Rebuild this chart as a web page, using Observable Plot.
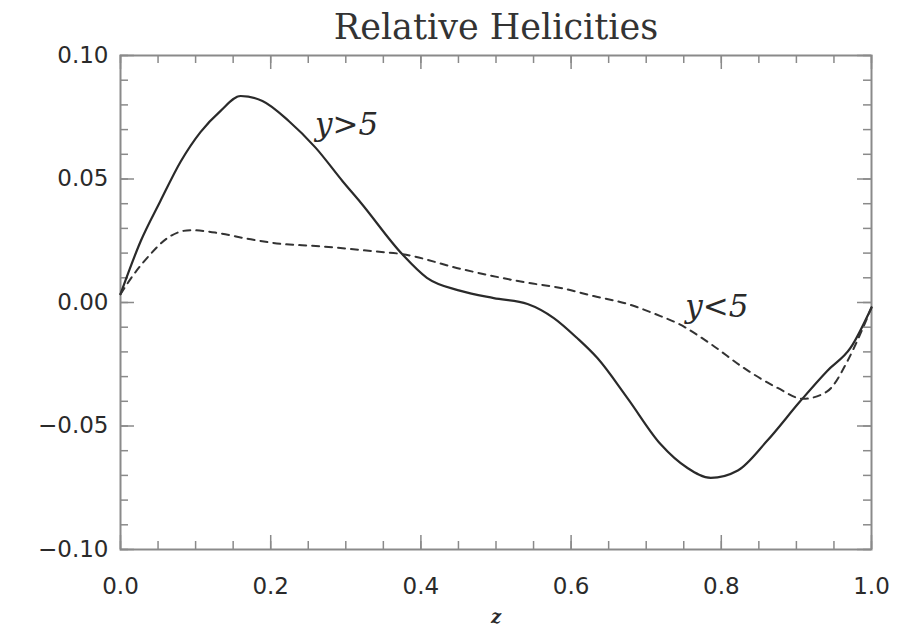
<!DOCTYPE html>
<html>
<head>
<meta charset="utf-8">
<script src="https://cdn.jsdelivr.net/npm/d3@7"></script>
<script src="https://cdn.jsdelivr.net/npm/@observablehq/plot@0.6"></script>
<style>
  html, body { margin: 0; padding: 0; background: #fff; }
  #chart svg { display: block; }
</style>
</head>
<body>
<div id="chart"></div>
<script>
// Data
const zSolid = [0, 0.027, 0.053, 0.08, 0.1065, 0.133, 0.16, 0.189, 0.224, 0.26, 0.296, 0.32, 0.375, 0.408, 0.453, 0.497, 0.542, 0.577, 0.608, 0.635, 0.675, 0.719, 0.755, 0.786, 0.822, 0.861, 0.905, 0.941, 0.972, 1.0];
const vSolid = [0.0034, 0.0249, 0.041, 0.057, 0.069, 0.0775, 0.0836, 0.0816, 0.0735, 0.0626, 0.049, 0.0404, 0.0196, 0.010, 0.0047, 0.0018, -0.0006, -0.0063, -0.0144, -0.0225, -0.0387, -0.0573, -0.067, -0.071, -0.068, -0.056, -0.040, -0.0277, -0.0184, -0.002];

const zDashed = [0, 0.018, 0.04, 0.062, 0.093, 0.126, 0.171, 0.215, 0.26, 0.335, 0.375, 0.453, 0.542, 0.586, 0.63, 0.675, 0.719, 0.741, 0.786, 0.83, 0.875, 0.909, 0.941, 0.968, 0.985, 1.0];
const vDashed = [0.0034, 0.0115, 0.0196, 0.026, 0.0293, 0.0283, 0.0257, 0.0237, 0.0229, 0.0208, 0.0196, 0.0136, 0.008, 0.0059, 0.0026, -0.0006, -0.0055, -0.0083, -0.0168, -0.0265, -0.0346, -0.039, -0.036, -0.0237, -0.0128, -0.002];

const xTickValues = [0, 0.2, 0.4, 0.6, 0.8, 1.0];
const xTickLabels = ["0.0", "0.2", "0.4", "0.6", "0.8", "1.0"];
const yTickValues = [-0.10, -0.05, 0.00, 0.05, 0.10];
const yTickLabels = ["\u22120.10", "\u22120.05", "0.00", "0.05", "0.10"];
const xMinorStep = 0.05;
const yMinorStep = 0.01;

const titleText = "Relative Helicities";
const xLabel = "z";
const seriesLabels = [
  {text: "y>5", z: 0.301, v: 0.0719},
  {text: "y<5", z: 0.794, v: -0.0018}
];

const solid = zSolid.map((z, i) => ({z, v: vSolid[i]}));
const dashed = zDashed.map((z, i) => ({z, v: vDashed[i]}));

const xMinor = d3.range(0, 1 + 1e-9, xMinorStep).map(d => +d.toFixed(4));
const yMinor = d3.range(-0.10, 0.10 + 1e-9, yMinorStep).map(d => +d.toFixed(4));

const W = 911, H = 627;
const mL = 120, mR = 40, mT = 55, mB = 78;
const fw = W - mL - mR, fh = H - mT - mB;
const majLen = 14, minLen = 8;
const axisColor = "#8a8a8a";
const ink = "#2a2a2a";
const tickFont = "'DejaVu Sans', sans-serif";

const chart = Plot.plot({
  width: W,
  height: H,
  marginLeft: mL,
  marginRight: mR,
  marginTop: mT,
  marginBottom: mB,
  style: {background: "#fff", color: ink, fontFamily: tickFont},
  x: {domain: [0, 1], axis: null},
  y: {domain: [-0.10, 0.10], axis: null},
  marks: [
    // minor ticks (inward) on all four sides
    Plot.tickX(xMinor, {x: d => d, insetTop: fh - minLen, stroke: axisColor, strokeWidth: 1.5}),
    Plot.tickX(xMinor, {x: d => d, insetBottom: fh - minLen, stroke: axisColor, strokeWidth: 1.5}),
    Plot.tickY(yMinor, {y: d => d, insetRight: fw - minLen, stroke: axisColor, strokeWidth: 1.5}),
    Plot.tickY(yMinor, {y: d => d, insetLeft: fw - minLen, stroke: axisColor, strokeWidth: 1.5}),
    // major ticks
    Plot.tickX(xTickValues, {x: d => d, insetTop: fh - majLen, stroke: axisColor, strokeWidth: 1.5}),
    Plot.tickX(xTickValues, {x: d => d, insetBottom: fh - majLen, stroke: axisColor, strokeWidth: 1.5}),
    Plot.tickY(yTickValues, {y: d => d, insetRight: fw - majLen, stroke: axisColor, strokeWidth: 1.5}),
    Plot.tickY(yTickValues, {y: d => d, insetLeft: fw - majLen, stroke: axisColor, strokeWidth: 1.5}),
    Plot.frame({stroke: axisColor, strokeWidth: 2}),
    // tick labels
    Plot.axisX(xTickValues, {anchor: "bottom", tickSize: 0, tickPadding: 28, tickFormat: (d, i) => xTickLabels[i], fontSize: 23, fill: ink, label: null, letterSpacing: 1}),
    Plot.axisY(yTickValues, {anchor: "left", tickSize: 0, tickPadding: 12, tickFormat: (d, i) => yTickLabels[i], fontSize: 23, fill: ink, label: null, letterSpacing: 1}),
    // curves
    Plot.line(solid, {x: "z", y: "v", curve: "monotone-x", stroke: ink, strokeWidth: 2.2}),
    Plot.line(dashed, {x: "z", y: "v", curve: "monotone-x", stroke: "#333", strokeWidth: 2, strokeDasharray: "7,6"}),
    // series labels
    Plot.text(seriesLabels, {x: "z", y: "v", text: "text", fontSize: 31, fontStyle: "italic", fontFamily: "'DejaVu Serif', serif", fill: ink}),
    // title and axis label
    Plot.text([titleText], {frameAnchor: "top", lineAnchor: "middle", dy: -28, text: d => d, fontSize: 35, letterSpacing: 1, fontFamily: "'DejaVu Serif', serif", fill: "#333"}),
    Plot.text([xLabel], {frameAnchor: "bottom", lineAnchor: "middle", dy: 68, text: d => d, fontSize: 18, fontStyle: "italic", fontWeight: "bold", fontFamily: "'DejaVu Serif', serif", fill: ink})
  ]
});
document.getElementById("chart").appendChild(chart);
</script>
</body>
</html>
